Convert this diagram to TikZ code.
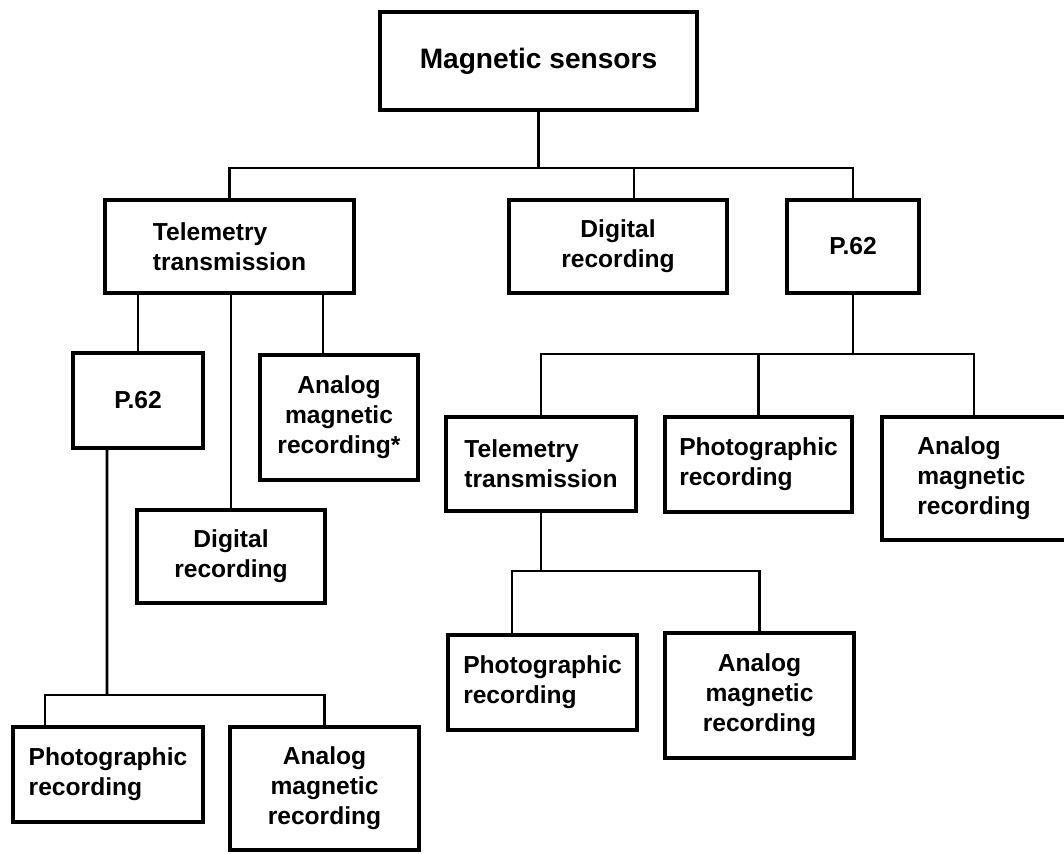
\documentclass[tikz,border=0pt]{standalone}
\usepackage{fontspec}
\setmainfont{Liberation Sans}

\begin{document}
\begin{tikzpicture}[x=0.02cm, y=-0.02cm,
                    main node/.style={rectangle,draw,line width=2.4pt,inner sep=2pt,
                                      font=\bfseries\fontsize{14}{17}\selectfont},
                    bus/.style={line width=1.6pt}]
  \useasboundingbox (0,0) rectangle (1064,853);

  \node[main node, minimum width=6.34cm, minimum height=1.96cm,
        font=\bfseries\fontsize{16}{19}\selectfont] (ms) at (538.5,61) {Magnetic sensors};

  \node[main node, align=left, minimum width=4.98cm, minimum height=1.86cm] (tt1) at (229.5,246.5) {Telemetry\\transmission};
  \node[main node, align=center, minimum width=4.36cm, minimum height=1.86cm] (dr1) at (618,246.5) {Digital\\recording};
  \node[main node, minimum width=2.64cm, minimum height=1.86cm] (pr) at (853,246.5) {P.62};

  \node[main node, minimum width=2.60cm, minimum height=1.90cm] (pl) at (138,400.5) {P.62};
  \node[main node, align=center, minimum width=3.16cm, minimum height=2.50cm] (am1) at (339,417.5) {Analog\\magnetic\\recording*};
  \node[main node, align=center, minimum width=3.76cm, minimum height=1.86cm] (dr2) at (231,556.5) {Digital\\recording};

  \node[main node, align=left, minimum width=3.80cm, minimum height=1.88cm] (tt2) at (541,464) {Telemetry\\transmission};
  \node[main node, align=left, minimum width=3.74cm, minimum height=1.90cm] (ph1) at (758.5,464.5) {Photographic\\recording};
  \node[main node, align=left, minimum width=3.68cm, minimum height=2.46cm] (am2) at (974,478.5) {Analog\\magnetic\\recording};

  \node[main node, align=left, minimum width=3.78cm, minimum height=1.90cm] (ph2) at (542.5,682.5) {Photographic\\recording};
  \node[main node, align=center, minimum width=3.78cm, minimum height=2.50cm] (am3) at (759.5,695.5) {Analog\\magnetic\\recording};

  \node[main node, align=left, minimum width=3.80cm, minimum height=1.90cm] (ph3) at (108,774.5) {Photographic\\recording};
  \node[main node, align=center, minimum width=3.78cm, minimum height=2.46cm] (am4) at (324.5,788.5) {Analog\\magnetic\\recording};

  % first level
  \coordinate (b1) at (538.5,168);
  \draw[bus] (ms.south) -- (b1);
  \draw[bus] (tt1.north) |- (b1) -| (pr.north);
  \draw[bus] (b1) -| ([xshift=0.32cm]dr1.north);

  % under telemetry
  \draw[bus] (pl.north) -- (pl.north |- tt1.south);
  \draw[bus] (dr2.north) -- (dr2.north |- tt1.south);
  \draw[bus] ([xshift=-0.32cm]am1.north) -- ++(0,-62);

  % under left P.62
  \coordinate (b3) at (107,695);
  \draw[bus] ([xshift=-0.62cm]pl.south) -- (b3);
  \draw[bus] ([xshift=-1.26cm]ph3.north) |- (b3) -| (am4.north);

  % under right P.62
  \coordinate (b2) at (853,354);
  \draw[bus] (pr.south) -- (b2);
  \draw[bus] (tt2.north) |- (b2) -| (am2.north);
  \draw[bus] (ph1.north) -- (ph1.north |- b2);

  % under right telemetry
  \coordinate (b4) at (541,571);
  \draw[bus] (tt2.south) -- (b4);
  \draw[bus] ([xshift=-0.61cm]ph2.north) |- (b4) -| (am3.north);
\end{tikzpicture}
\end{document}
